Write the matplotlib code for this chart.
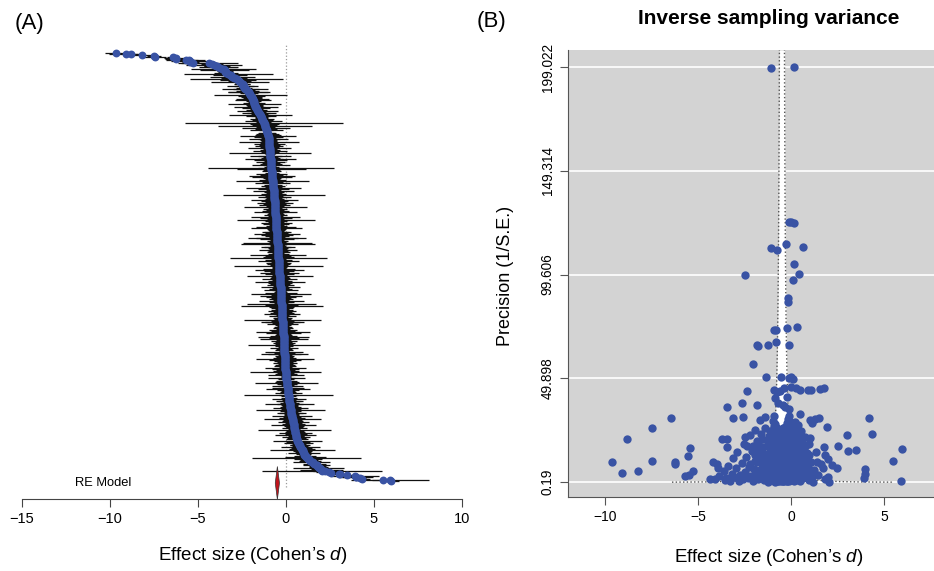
import numpy as np
import matplotlib.pyplot as plt

plt.rcParams['font.family'] = ['Liberation Sans', 'DejaVu Sans']
plt.rcParams['mathtext.fontset'] = 'custom'
plt.rcParams['mathtext.it'] = 'Liberation Sans:italic'
plt.rcParams['mathtext.rm'] = 'Liberation Sans'

# Cohen's d and inverse sampling variance (1/vi), one entry per effect size
# high precision studies (upper part of the funnel)
d_high = [-1.08, 0.16, -0.10, 0.02, 0.14, -1.08, -0.75, -0.29, 0.63, 0.16,
          -2.47, 0.43, 0.09, -0.16, -0.17, -0.90, -0.82, -0.23, 0.31, -1.84,
          -1.80, -1.22, -0.81, -0.11, -2.05, -1.36, -0.55, -0.10, 0.13, 0.00,
          -2.38, -0.90, -0.75, -0.60, -0.40, 0.00, 0.25, 0.50, 0.90, 1.05,
          1.55, 1.75, -3.46, -2.65, -1.84, -0.70, -0.45, -0.30, -0.10, -0.85,
          -0.20]
v_high = [198.4, 199.0, 125.0, 124.8, 124.5, 112.5, 111.5, 114.0, 113.0, 104.6,
          99.4, 99.8, 97.0, 88.2, 86.6, 73.0, 73.2, 74.0, 74.3, 65.8,
          65.5, 65.6, 67.3, 65.6, 56.5, 50.6, 50.6, 49.9, 49.4, 50.5,
          44.0, 44.5, 43.5, 44.0, 45.0, 45.5, 45.0, 44.5, 44.3, 44.5,
          44.8, 45.0, 36.3, 37.9, 37.0, 38.0, 37.0, 36.0, 35.0, 40.5,
          41.0]

# scattered studies away from the centre
d_out = [-9.64, -9.10, -8.83, -8.21, -7.49, -7.46, -6.43, -6.24, -6.26, -5.43,
         -5.52, -5.70, -5.46, -5.29, -4.35, -4.09, -4.18, -3.99, -3.91, -3.73,
         -3.42, -3.46, -3.49, -3.10, -2.56, -1.67, -1.40, -1.94, -2.47, -2.38,
         -1.76, 0.48, 1.02, 1.29, 1.52, 1.11, 1.95, 1.02, 1.77, 1.38,
         1.74, 1.83, 2.00, 2.19, 2.46, 2.00, 2.06, 2.54, 2.99, 3.04,
         3.49, 4.19, 4.34, 3.96, 3.96, 3.91, 5.50, 5.95, 5.91]
v_out = [9.9, 4.4, 20.9, 5.6, 25.9, 10.1, 30.9, 9.8, 8.8, 16.3,
         12.8, 3.2, 3.5, 5.6, 1.5, 1.5, 9.9, 8.8, 6.8, 20.9,
         20.9, 17.1, 1.96, 30.7, 31.5, 29.9, 31.5, 25.1, 21.9, 17.4,
         19.1, 33.0, 29.7, 30.5, 31.0, 28.6, 26.7, 21.3, 16.8, 10.0,
         6.7, 13.0, 11.4, 8.4, 6.8, 2.6, 0.33, 17.3, 22.6, 15.2,
         15.3, 30.9, 23.0, 6.4, 3.9, 2.0, 10.4, 15.9, 0.8]

# bulk of the studies, d between -3.9 and -1
d_far = [-3.85, -3.62, -3.55, -3.40, -3.28, -3.20, -3.12, -3.05, -2.95, -2.88,
         -2.80, -2.74, -2.66, -2.60, -2.52, -2.45, -2.40, -2.33, -2.27, -2.20,
         -2.15, -2.08, -2.02, -1.96, -1.90, -1.85, -1.80, -1.74, -1.69, -1.64,
         -1.60, -1.55, -1.50, -1.46, -1.42, -1.38, -1.34, -1.30, -1.27, -1.25,
         -1.22, -1.20, -1.17, -1.14, -1.12, -1.09, -1.07, -1.05, -1.03, -1.01,
         -2.18, -2.10, -2.04, -1.98, -1.92, -1.87, -1.82, -1.77, -1.72, -1.66,
         -1.58, -1.52, -1.44, -1.36, -1.28, -1.24, -1.19, -1.13, -1.08, -1.04]
v_far = [3.2, 5.5, 1.1, 8.0, 0.6, 4.2, 11.5, 2.4, 6.8, 14.5,
         0.55, 3.6, 9.2, 1.4, 18.5, 5.0, 12.0, 2.2, 7.4, 22.5,
         3.0, 15.0, 0.9, 10.2, 4.6, 19.8, 1.7, 13.4, 6.1, 23.4,
         2.8, 9.0, 16.8, 1.2, 5.3, 26.0, 11.6, 3.5, 20.2, 0.19,
         7.7, 0.54, 14.2, 2.0, 24.5, 4.4, 18.0, 8.6, 1.5, 12.8,
         8.6, 2.6, 17.2, 6.4, 13.0, 3.8, 9.7, 16.0, 2.5, 11.2,
         20.6, 4.0, 13.8, 8.2, 17.5, 5.6, 22.0, 10.5, 15.3, 6.9]

# d between -1 and -0.65
d_mid = [-0.99, -0.99, -0.98, -0.97, -0.97, -0.96, -0.95, -0.95, -0.94, -0.93,
         -0.93, -0.92, -0.91, -0.91, -0.90, -0.89, -0.89, -0.88, -0.87, -0.87,
         -0.86, -0.85, -0.85, -0.84, -0.83, -0.83, -0.82, -0.81, -0.81, -0.80,
         -0.79, -0.79, -0.78, -0.77, -0.77, -0.76, -0.75, -0.75, -0.74, -0.73,
         -0.73, -0.72, -0.71, -0.71, -0.70, -0.70, -0.69, -0.69, -0.68, -0.68,
         -0.67, -0.67, -0.66, -0.66, -0.65, -0.65, -0.98, -0.96, -0.94, -0.92,
         -0.90, -0.88, -0.86, -0.84,
         -0.99, -0.97, -0.95, -0.93, -0.91, -0.88, -0.86, -0.83, -0.80, -0.78,
         -0.76, -0.74, -0.72, -0.69, -0.66]
v_mid = [21.0, 3.1, 9.4, 29.5, 1.3, 15.6, 6.2, 25.0, 2.5, 11.8,
         18.7, 4.0, 32.0, 0.7, 8.3, 13.9, 22.6, 1.9, 5.7, 27.8,
         10.5, 16.9, 3.4, 20.1, 7.1, 1.0, 12.6, 24.2, 4.8, 17.5,
         2.3, 9.9, 14.8, 6.6, 21.7, 0.9, 11.0, 3.8, 26.1, 8.0,
         16.2, 1.6, 19.3, 5.2, 12.2, 2.9, 23.5, 7.6, 15.1, 0.45,
         10.0, 4.3, 18.4, 13.0, 6.9, 2.1, 17.2, 4.9, 12.4, 26.8,
         2.8, 7.9, 14.3, 0.3,
         6.0, 19.5, 10.8, 23.8, 14.9, 4.6, 20.9, 16.1, 8.9, 3.0,
         18.0, 13.3, 9.5, 20.3, 11.0]

# d between -0.65 and -0.34
d_near = [-0.64, -0.64, -0.63, -0.63, -0.62, -0.62, -0.61, -0.61, -0.60, -0.60,
          -0.59, -0.59, -0.58, -0.58, -0.57, -0.57, -0.56, -0.56, -0.55, -0.55,
          -0.54, -0.54, -0.53, -0.53, -0.52, -0.52, -0.51, -0.51, -0.50, -0.50,
          -0.49, -0.49, -0.48, -0.48, -0.47, -0.47, -0.46, -0.46, -0.45, -0.45,
          -0.44, -0.44, -0.43, -0.43, -0.42, -0.42, -0.41, -0.41, -0.40, -0.40,
          -0.39, -0.39, -0.38, -0.38, -0.37, -0.37, -0.36, -0.36, -0.35, -0.35,
          -0.34, -0.34, -0.63, -0.61, -0.59, -0.57, -0.55, -0.53, -0.51, -0.49,
          -0.47, -0.45, -0.43, -0.41, -0.39, -0.37, -0.35, -0.62, -0.58, -0.54,
          -0.50, -0.46, -0.42, -0.38, -0.60, -0.52, -0.44,
          -0.64, -0.62, -0.60, -0.58, -0.56, -0.54, -0.52, -0.50, -0.48, -0.46,
          -0.44, -0.42, -0.40, -0.38, -0.36]
v_near = [20.5, 3.6, 9.1, 14.6, 1.2, 24.0, 6.4, 11.4, 17.8, 2.6,
          8.7, 22.1, 4.5, 13.5, 0.8, 19.0, 7.2, 25.3, 3.0, 10.8,
          15.9, 1.8, 5.8, 21.2, 12.1, 2.2, 8.2, 17.0, 4.1, 23.7,
          1.0, 10.2, 0.87, 14.0, 6.7, 19.6, 3.3, 12.8, 26.0, 8.9,
          1.5, 16.3, 5.1, 22.8, 11.1, 2.9, 7.5, 18.2, 0.6, 13.8,
          4.7, 24.6, 9.6, 2.0, 15.4, 6.0, 20.8, 1.1, 11.9, 3.9,
          17.6, 8.4, 5.0, 15.2, 2.0, 10.0, 20.0, 7.8, 1.4, 16.5,
          4.2, 12.3, 0.5, 9.3, 21.9, 3.1, 14.7, 18.9, 7.0, 12.7,
          2.7, 9.8, 19.4, 5.4, 11.7, 4.6, 7.2,
          11.9, 8.0, 22.8, 16.7, 4.9, 19.0, 9.0, 13.0, 21.0, 15.0,
          10.6, 6.3, 18.7, 12.5, 23.0]

# d between -0.34 and 0
d_zero = [-0.33, -0.33, -0.32, -0.32, -0.31, -0.31, -0.30, -0.30, -0.29, -0.29,
          -0.28, -0.28, -0.27, -0.27, -0.26, -0.26, -0.25, -0.25, -0.24, -0.24,
          -0.23, -0.23, -0.22, -0.22, -0.21, -0.21, -0.20, -0.20, -0.19, -0.19,
          -0.18, -0.18, -0.17, -0.17, -0.16, -0.16, -0.15, -0.15, -0.14, -0.14,
          -0.13, -0.13, -0.12, -0.12, -0.11, -0.11, -0.10, -0.10, -0.09, -0.09,
          -0.08, -0.08, -0.07, -0.07, -0.06, -0.06, -0.05, -0.05, -0.04, -0.04,
          -0.03, -0.03, -0.02, -0.02, -0.01, -0.01, -0.33, -0.31, -0.29, -0.27,
          -0.25, -0.23, -0.21, -0.19, -0.17, -0.15, -0.13, -0.11, -0.09, -0.07,
          -0.05, -0.03, -0.01, -0.32, -0.28, -0.24, -0.20, -0.16, -0.12, -0.08,
          -0.04, -0.30, -0.22, -0.14, -0.06, -0.02, -0.18, -0.10,
          -0.34, -0.32, -0.30, -0.28, -0.26, -0.24, -0.22, -0.20, -0.18, -0.16,
          -0.14, -0.12, -0.10, -0.08, -0.06, -0.04, -0.02, -0.27, -0.13, -0.05]
v_zero = [1.9, 12.5, 22.4, 6.3, 3.0, 16.7, 9.0, 26.5, 1.3, 13.2,
          5.5, 19.9, 8.1, 2.4, 24.8, 11.0, 4.3, 15.8, 0.7, 7.4,
          21.5, 10.6, 3.6, 17.3, 6.8, 28.4, 0.8, 12.9, 2.6, 9.5,
          19.1, 5.0, 14.4, 30.2, 1.6, 8.6, 23.3, 4.0, 11.3, 16.1,
          2.1, 26.9, 7.0, 20.4, 0.9, 13.6, 5.9, 31.8, 10.1, 3.3,
          17.7, 24.1, 1.4, 8.8, 14.9, 4.7, 21.0, 11.7, 2.8, 28.9,
          6.5, 18.6, 0.96, 12.0, 9.3, 25.6, 8.5, 20.0, 4.8, 14.1,
          1.0, 6.1, 18.0, 3.9, 10.9, 27.5, 5.3, 15.3, 2.2, 22.0,
          7.8, 13.1, 3.7, 11.8, 2.7, 10.3, 22.9, 6.2, 16.9, 4.4,
          19.5, 17.4, 13.4, 1.8, 9.7, 6.9, 25.2, 19.0,
          13.9, 15.0, 4.2, 11.6, 7.8, 20.7, 8.4, 16.0, 11.0, 24.5,
          6.4, 9.9, 13.9, 12.6, 20.0, 10.2, 16.2, 17.9, 22.6, 15.8]

# d above 0
d_pos = [0.01, 0.02, 0.03, 0.04, 0.05, 0.06, 0.07, 0.08, 0.09, 0.10,
         0.11, 0.12, 0.13, 0.14, 0.15, 0.16, 0.17, 0.18, 0.19, 0.20,
         0.21, 0.22, 0.23, 0.24, 0.25, 0.26, 0.27, 0.28, 0.29, 0.30,
         0.31, 0.03, 0.09, 0.17, 0.26, 0.33, 0.34, 0.35, 0.36, 0.37,
         0.38, 0.40, 0.41, 0.42, 0.44, 0.45, 0.46, 0.48, 0.49, 0.50,
         0.52, 0.53, 0.55, 0.56, 0.57, 0.58, 0.59, 0.62, 0.65, 0.68,
         0.71, 0.74, 0.78, 0.82, 0.86, 0.90, 0.94, 0.98, 1.02, 1.06,
         1.12, 1.18, 1.25, 1.32, 1.45, 1.60, 1.85,
         0.02, 0.05, 0.08, 0.12, 0.15, 0.19, 0.22, 0.27, 0.32, 0.37,
         0.43, 0.47, 0.51, 0.57, 0.63, 0.69, 0.75, 0.80, 0.88, 0.96]
v_pos = [15.5, 3.5, 22.7, 8.0, 1.2, 12.4, 27.0, 5.2, 17.9, 2.5,
         10.4, 24.3, 6.6, 14.2, 0.6, 19.7, 4.1, 9.1, 29.0, 13.0,
         2.0, 7.3, 20.6, 11.2, 3.8, 16.4, 1.0, 25.5, 8.7, 5.6,
         18.8, 10.9, 4.6, 23.8, 12.0, 3.0, 14.5, 22.0, 7.0, 1.5,
         10.6, 27.5, 5.0, 17.2, 2.3, 12.9, 20.3, 8.1, 0.9, 15.4,
         4.4, 24.7, 10.0, 2.8, 18.1, 6.3, 13.3, 9.4, 2.0, 16.0,
         5.5, 21.8, 11.5, 3.2, 14.0, 7.2, 1.1, 18.5, 4.7, 9.8,
         2.9, 0.4, 6.0, 14.8, 3.5, 8.8, 1.8,
         19.0, 9.8, 14.0, 17.0, 21.5, 6.5, 16.8, 10.4, 19.6, 12.8,
         8.8, 16.5, 11.6, 21.0, 13.5, 8.5, 12.9, 17.8, 10.8, 13.2]

# random-effects summary
re_est, re_lo, re_hi = -0.49, -0.61, -0.37
funnel_floor = 0.11  # lowest 1/vi reached by the funnel lines

xticks_a = [-15, -10, -5, 0, 5, 10]
xticks_b = [-10, -5, 0, 5]
yticks_b = [0.19, 49.898, 99.606, 149.314, 199.022]
ylabels_b = ['0.19', '49.898', '99.606', '149.314', '199.022']

BLUE = '#3953a4'
W, H = 934, 571


def px_box(left, top, right, bottom):
    return [left / W, 1 - bottom / H, (right - left) / W, (bottom - top) / H]


d = np.array(d_high + d_out + d_far + d_mid + d_near + d_zero + d_pos)
vinv = np.array(v_high + v_out + v_far + v_mid + v_near + v_zero + v_pos)
se = 1 / np.sqrt(vinv)

fig = plt.figure(figsize=(W / 100, H / 100), dpi=100)

# ---- (A) forest plot, sorted by effect size
axA = fig.add_axes(px_box(22, 45, 462, 499))
order = np.argsort(d)
k = len(d)
rows = np.arange(k, 0, -1)
step = (481 - 53) / (k - 1)  # pixels per study row
ytop = k + 8 / step
axA.set_xlim(-15, 10)
axA.set_ylim(1 - 18 / step, ytop)
axA.hlines(rows, d[order] - 1.96 * se[order], d[order] + 1.96 * se[order],
           color='#111111', lw=0.9, zorder=2)
axA.scatter(d[order], rows, s=32, color=BLUE, lw=0, zorder=3)
axA.plot([0, 0], [1 - 6 / step, ytop], ls=':', color='#9a9a9a', lw=0.9, zorder=1)

re_row = 1 - 2 / step
half = 16.5 / step
axA.fill([re_lo, re_est, re_hi, re_est],
         [re_row, re_row + half, re_row, re_row - half],
         facecolor='#c0141c', edgecolor='#333333', lw=0.5, zorder=4)
axA.text(-12, re_row, 'RE Model', fontsize=9.3, ha='left', va='center')

for s in ['top', 'left', 'right']:
    axA.spines[s].set_visible(False)
axA.spines['bottom'].set_bounds(-15, 10)
axA.spines['bottom'].set_color('#444444')
axA.set_yticks([])
axA.set_xticks(xticks_a)
axA.tick_params(axis='x', length=5.5, width=0.8, color='#444444', labelsize=10.5, pad=4)

fig.text(252.5 / W, 1 - 555 / H, 'Effect size (Cohen’s $d$)', fontsize=13.5,
         ha='center', va='center')
fig.text(15 / W, 1 - 24 / H, '(A)', fontsize=16, ha='left', va='center')

# ---- (B) funnel plot
axB = fig.add_axes(px_box(568, 50, 970, 497))
axB.set_facecolor('#d3d3d3')
axB.set_xlim(-11.99, 9.62)
axB.set_ylim(-7.0, 207.2)
for v in yticks_b:
    axB.axhline(v, color='white', lw=1.2, zorder=0.5)

vv = np.geomspace(funnel_floor, 207.2, 600)
hw = 1.96 / np.sqrt(vv)
axB.fill_betweenx(vv, re_est - hw, re_est + hw, color='white', lw=0, zorder=1)
axB.plot(re_est - hw, vv, ls=':', color='#555555', lw=1.0, zorder=1.5)
axB.plot(re_est + hw, vv, ls=':', color='#555555', lw=1.0, zorder=1.5)

axB.scatter(d, vinv, s=36, color=BLUE, lw=0, zorder=3)

for s in ['top', 'right']:
    axB.spines[s].set_visible(False)
for s in ['left', 'bottom']:
    axB.spines[s].set_color('#555555')
axB.set_xticks(xticks_b)
axB.set_yticks(yticks_b)
axB.set_yticklabels(ylabels_b, rotation=90, va='center')
axB.tick_params(axis='x', length=5.5, width=0.8, color='#555555', labelsize=10, pad=4)
axB.tick_params(axis='y', length=5.5, width=0.8, color='#555555', labelsize=9.8, pad=4)

fig.text(769 / W, 1 - 18 / H, 'Inverse sampling variance', fontsize=15,
         fontweight='bold', ha='center', va='center')
fig.text(769 / W, 1 - 557 / H, 'Effect size (Cohen’s $d$)', fontsize=13.5,
         ha='center', va='center')
fig.text(505 / W, 1 - 276 / H, 'Precision (1/S.E.)', fontsize=13, rotation=90,
         ha='center', va='center')
fig.text(477 / W, 1 - 22 / H, '(B)', fontsize=16, ha='left', va='center')

fig.savefig('out.png', dpi=100)
